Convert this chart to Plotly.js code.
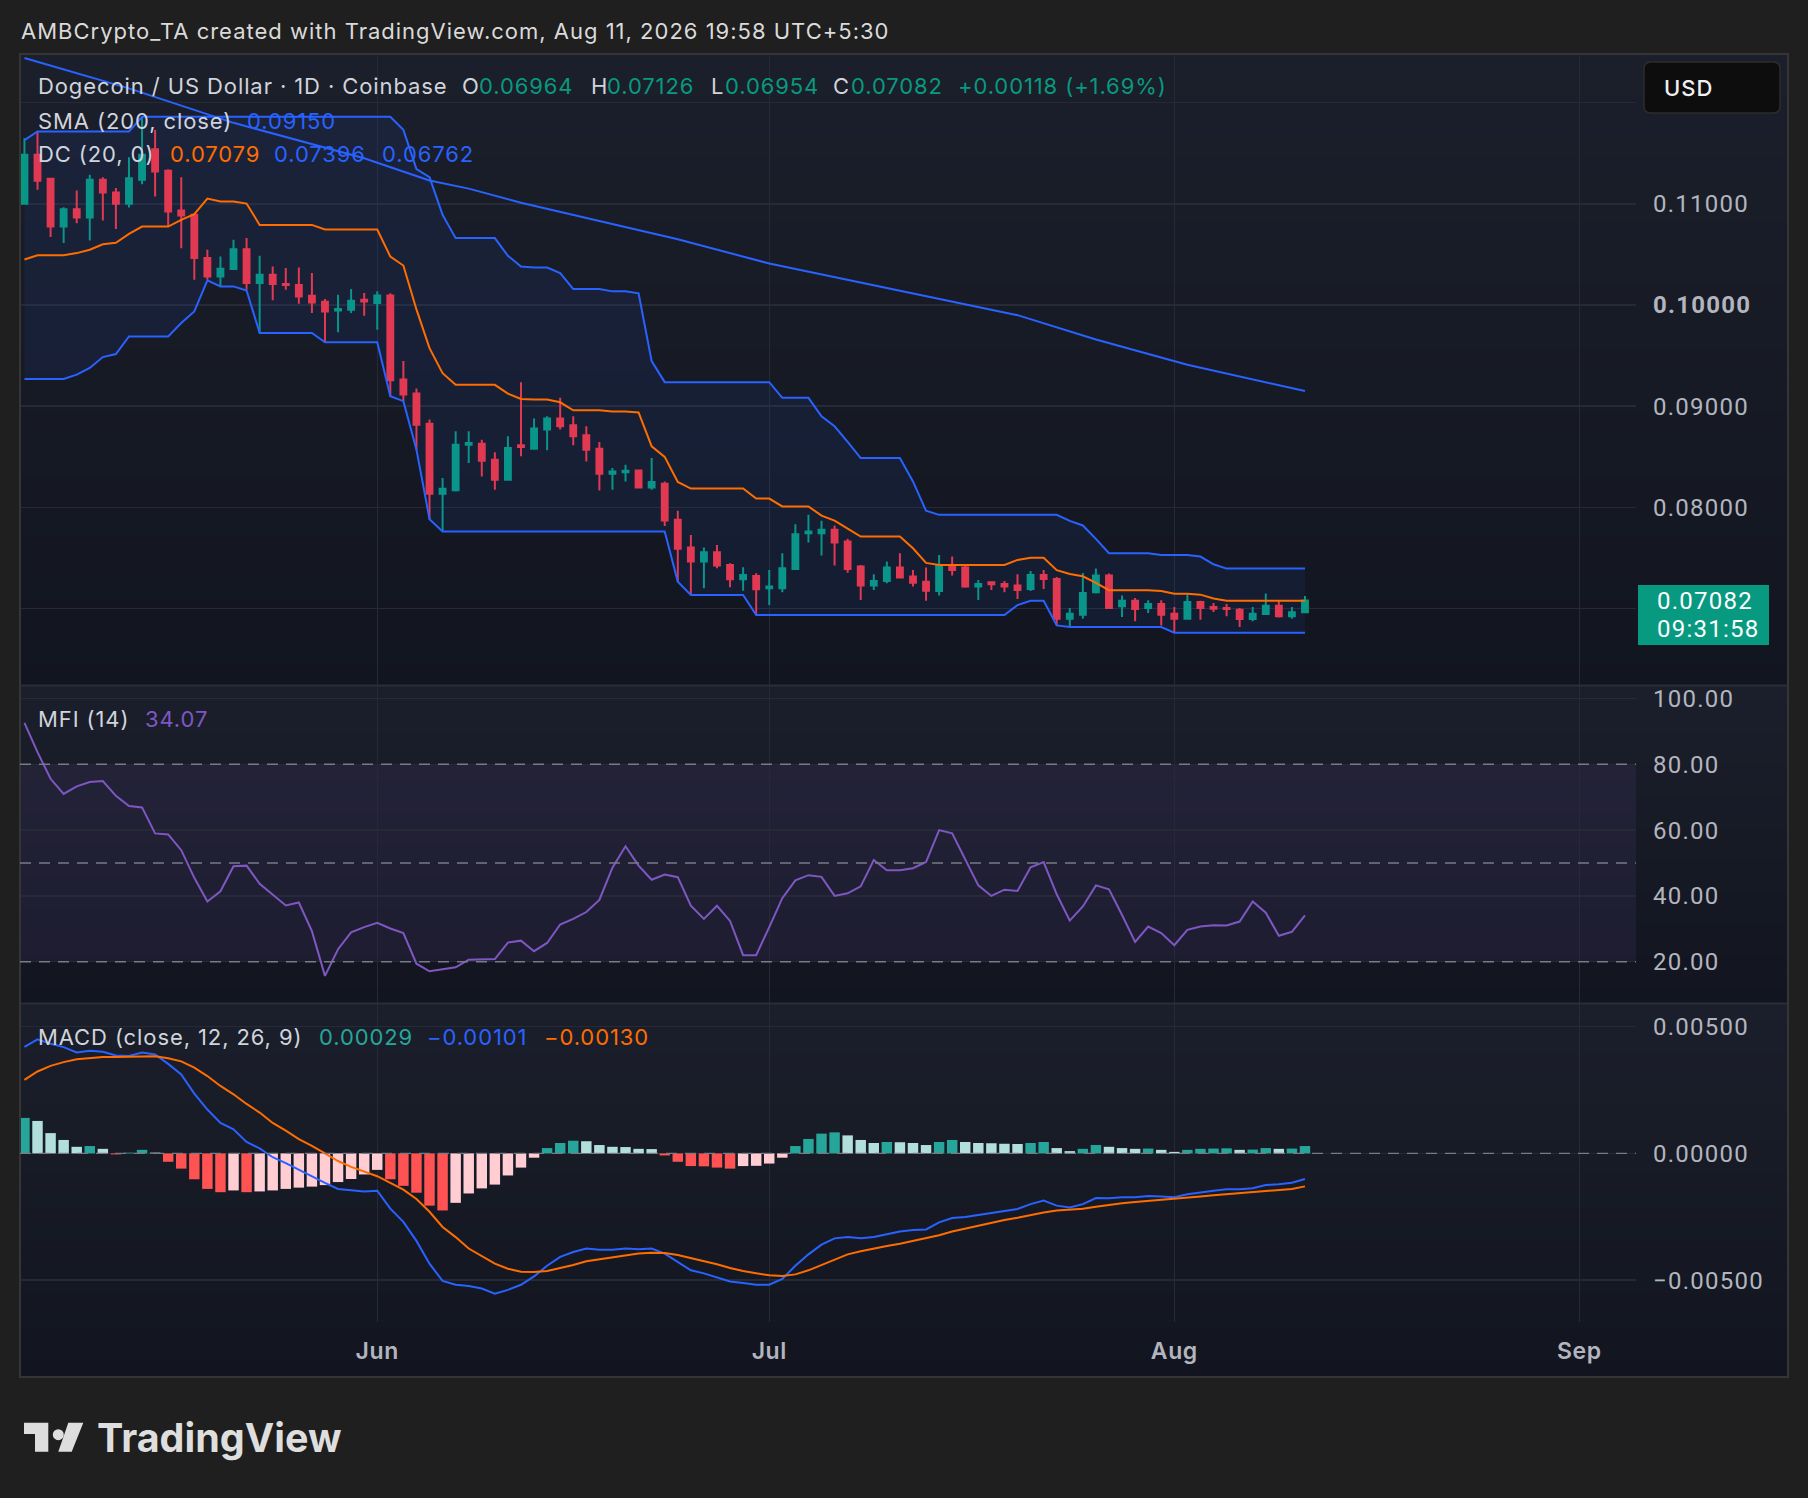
<!DOCTYPE html>
<html><head><meta charset="utf-8">
<script src="https://cdn.plot.ly/plotly-3.0.1.min.js"></script>
<style>html,body{margin:0;padding:0;background:#1f1f1f;overflow:hidden}#chart{width:1808px;height:1498px}</style>
</head><body><div id="chart"></div><script>
// ---------- DATA ----------
const startDate = '2026-05-05';
const open = [0.1100,0.11484,0.11247,0.10776,0.10947,0.10865,0.11237,0.11112,0.1100,0.11237,0.1154,0.11326,0.10934,0.10891,0.10464,0.10283,0.10355,0.10552,0.10217,0.10299,0.10207,0.10197,0.10092,0.10033,0.09947,0.09954,0.10052,0.10019,0.10095,0.09264,0.09125,0.08828,0.08135,0.0817,0.0862,0.0863,0.08472,0.08274,0.08614,0.08581,0.08769,0.08878,0.08812,0.08713,0.08581,0.08333,0.08347,0.08366,0.08198,0.08234,0.07878,0.07604,0.07465,0.07558,0.07432,0.0729,0.07323,0.07201,0.07201,0.07393,0.07746,0.07746,0.07779,0.07663,0.07416,0.07228,0.07274,0.07406,0.07317,0.07267,0.07175,0.07432,0.07406,0.07218,0.0726,0.07244,0.07228,0.07195,0.07333,0.07294,0.06901,0.06941,0.07162,0.07327,0.07023,0.07079,0.07007,0.07046,0.0695,0.06901,0.07066,0.07017,0.07007,0.0699,0.06898,0.06947,0.0703,0.06924,0.06964];
const high = [0.11648,0.11714,0.11247,0.10967,0.11132,0.11286,0.11263,0.11155,0.11461,0.1186,0.1173,0.11342,0.11263,0.10891,0.10546,0.1048,0.10645,0.10661,0.10487,0.10381,0.10365,0.10371,0.10316,0.10059,0.10102,0.10158,0.10118,0.10135,0.10116,0.09446,0.09175,0.08868,0.0829,0.08752,0.08752,0.0867,0.08545,0.08703,0.09238,0.08878,0.08901,0.09083,0.08901,0.08802,0.08647,0.0839,0.08422,0.08373,0.08488,0.08257,0.07967,0.07729,0.07604,0.0763,0.07449,0.07409,0.0735,0.07383,0.07548,0.07835,0.07927,0.07868,0.07822,0.0769,0.07432,0.0734,0.07465,0.07548,0.07383,0.07406,0.07531,0.07515,0.07439,0.07284,0.07267,0.07274,0.0734,0.07373,0.07383,0.07314,0.07007,0.07353,0.07396,0.07347,0.07129,0.07106,0.07083,0.07083,0.07017,0.07139,0.07079,0.07056,0.07046,0.07007,0.07017,0.07149,0.07079,0.07017,0.07126];
const low = [0.1099,0.11138,0.10671,0.10612,0.10809,0.10638,0.10835,0.1075,0.10964,0.11194,0.11072,0.10776,0.10562,0.1025,0.1025,0.10184,0.10355,0.10151,0.09723,0.10046,0.10151,0.10013,0.09921,0.09631,0.0973,0.09921,0.09894,0.09756,0.09099,0.0905,0.08571,0.07884,0.07762,0.08158,0.08439,0.08307,0.08175,0.08274,0.08505,0.08571,0.08564,0.08769,0.08614,0.08455,0.08168,0.08175,0.08257,0.08198,0.08175,0.07818,0.07267,0.07135,0.07201,0.07399,0.07211,0.07178,0.06937,0.07036,0.07162,0.07383,0.07653,0.07525,0.07426,0.07356,0.07086,0.07185,0.07251,0.07307,0.07218,0.07079,0.07129,0.07327,0.07208,0.07086,0.07185,0.07162,0.07096,0.07175,0.07195,0.06835,0.06818,0.06901,0.07149,0.07,0.06917,0.06875,0.06957,0.06835,0.06762,0.06901,0.06891,0.06967,0.06924,0.06818,0.06875,0.06947,0.06914,0.06901,0.06954];
const close = [0.11484,0.11227,0.10776,0.10947,0.10865,0.11237,0.11112,0.1100,0.11253,0.11484,0.11319,0.10924,0.10885,0.10464,0.10283,0.10358,0.10552,0.10217,0.10299,0.10207,0.10197,0.10085,0.10026,0.09937,0.0996,0.10042,0.10036,0.10095,0.09257,0.09116,0.08818,0.08135,0.08185,0.0862,0.08637,0.08462,0.08274,0.08587,0.08597,0.08779,0.08878,0.08802,0.08703,0.08571,0.08333,0.08356,0.08363,0.08198,0.08251,0.07871,0.07591,0.07465,0.07558,0.07426,0.0729,0.07333,0.07191,0.07218,0.07399,0.07736,0.07762,0.07779,0.07653,0.07393,0.07228,0.07274,0.07406,0.07307,0.07257,0.07178,0.07432,0.07383,0.07218,0.07244,0.07241,0.07218,0.07185,0.07333,0.07294,0.06901,0.0695,0.07155,0.07327,0.07007,0.07079,0.06997,0.07046,0.06941,0.06901,0.07066,0.07007,0.07,0.06997,0.06898,0.0695,0.0703,0.06924,0.06964,0.07082];
// Donchian values before a full 20-day window is available (read)
const dcUpperPre = [0.1163,0.11714,0.11714,0.11714,0.11714,0.11714,0.11714,0.11714,0.11714,0.1186,0.1186,0.1186,0.1186,0.1186,0.1186,0.1186,0.1186,0.1186,0.1186];
const dcLowerPre = [0.0927,0.0927,0.0927,0.0927,0.09312,0.09378,0.09486,0.09516,0.0969,0.0969,0.0969,0.0969,0.09822,0.09937,0.10243,0.10184,0.10184,0.10144,0.09723];
// SMA(200) read at sample days (day number, 1 = first candle)
const smaDay = [1,9,17,27,32,35,39,45,51,58,64,71,77,83,90,99];
const smaValue = [0.1244,0.1214,0.1180,0.1145,0.1123,0.1115,0.1101,0.1083,0.1065,0.1041,0.1025,0.1006,0.0990,0.0966,0.0941,0.0915];
const mfi = [92.6,83.7,75.6,71.0,73.3,74.6,74.9,70.4,67.3,66.9,59.0,58.7,53.9,45.5,38.3,41.4,49.0,49.2,43.7,40.5,37.1,38.0,29.3,15.7,23.8,28.9,30.5,31.8,30.1,28.7,19.4,17.1,17.6,
 18.3,20.6,20.6,20.8,25.8,26.4,23.2,25.7,31.3,33.0,35.1,38.8,48.6,55.1,49.2,44.9,46.5,45.7,37.0,33.0,37.0,32.4,22.0,22.0,30.5,39.3,44.7,46.3,45.8,40.0,40.8,42.9,50.9,
 47.8,47.8,48.4,50.3,60.0,59.0,51.3,43.2,40.0,41.9,41.5,48.7,50.3,40.5,32.5,36.8,43.2,42.0,34.2,26.0,30.7,28.7,25.0,29.7,30.7,31.1,31.0,32.2,38.3,34.9,27.9,29.1,34.07];
const macd = [0.0042,0.0045,0.00432,0.00419,0.00398,0.00405,0.00401,0.00386,0.00384,0.00398,0.0039,0.00353,0.00311,0.00236,0.00173,0.0012,0.00095,0.00045,0.0002,-0.00015,-0.00038,-0.00065,-0.0009,-0.00116,-0.0014,-0.00146,-0.0015,-0.00147,-0.00218,-0.0027,-0.00345,-0.00435,-0.00503,
 -0.00518,-0.00523,-0.00533,-0.00553,-0.00538,-0.00518,-0.00485,-0.00443,-0.00408,-0.00389,-0.00375,-0.0038,-0.0038,-0.00375,-0.00378,-0.00375,-0.00395,-0.00428,-0.00461,-0.00473,-0.00488,-0.00505,-0.00511,-0.00518,-0.00518,-0.00495,-0.00443,-0.00398,-0.0036,-0.00335,-0.0033,-0.00335,-0.0033,
 -0.00318,-0.00308,-0.00302,-0.003,-0.00272,-0.00255,-0.00251,-0.00243,-0.00236,-0.00227,-0.00219,-0.002,-0.00186,-0.00206,-0.00213,-0.002,-0.00176,-0.00177,-0.00173,-0.00173,-0.00168,-0.0017,-0.00173,-0.00161,-0.00153,-0.00147,-0.00141,-0.00141,-0.00137,-0.00125,-0.00122,-0.00116,-0.00101];
const signal = [0.0029,0.00323,0.00345,0.0036,0.00371,0.00375,0.0038,0.0038,0.00381,0.00383,0.00383,0.00375,0.00363,0.00338,0.00305,0.00266,0.00233,0.00195,0.00161,0.0012,0.0009,0.00056,0.0003,0,-0.0003,-0.00053,-0.00072,-0.0009,-0.00116,-0.00143,-0.0018,-0.0023,-0.0029,
 -0.0033,-0.00375,-0.00405,-0.00435,-0.00455,-0.00467,-0.00468,-0.00464,-0.00452,-0.0044,-0.00425,-0.00417,-0.00408,-0.00401,-0.00395,-0.00392,-0.00393,-0.00401,-0.00413,-0.00425,-0.00437,-0.00452,-0.00464,-0.00473,-0.0048,-0.00483,-0.00477,-0.00461,-0.0044,-0.00416,-0.00398,-0.00386,-0.00374,
 -0.00365,-0.00356,-0.00345,-0.00335,-0.00323,-0.00308,-0.00296,-0.00284,-0.00273,-0.00263,-0.00254,-0.00243,-0.00233,-0.00225,-0.00222,-0.00218,-0.0021,-0.00203,-0.00197,-0.00192,-0.00188,-0.00183,-0.0018,-0.00176,-0.0017,-0.00165,-0.00161,-0.00158,-0.00153,-0.00149,-0.00144,-0.0014,-0.0013];
const hist = [0.0014,0.00128,0.0008,0.00053,0.00026,0.00029,0.00018,-0.00004,0.00003,0.00014,0.00003,-0.00033,-0.0006,-0.00102,-0.0014,-0.00153,-0.00146,-0.00153,-0.0015,-0.00146,-0.0014,-0.00135,-0.00131,-0.00125,-0.00113,-0.00101,-0.00083,-0.00065,-0.00102,-0.00128,-0.00155,-0.00206,-0.00225,
 -0.00195,-0.00158,-0.00138,-0.00123,-0.00087,-0.00056,-0.00017,0.00021,0.00041,0.0005,0.00048,0.00033,0.00026,0.00025,0.00018,0.00017,-0.00008,-0.00033,-0.0005,-0.00051,-0.00056,-0.0006,-0.0005,-0.00049,-0.0004,-0.00017,0.00029,0.00057,0.00078,0.00083,0.00071,0.00053,0.00041,
 0.00045,0.00044,0.00041,0.00033,0.00045,0.00053,0.00045,0.00041,0.0004,0.00038,0.00037,0.00041,0.00045,0.00021,0.00009,0.00018,0.00033,0.00026,0.00021,0.00018,0.00019,0.00014,0.00006,0.00014,0.00018,0.00019,0.0002,0.00014,0.00015,0.00021,0.00018,0.00019,0.00029];
const monthTicks = ['2026-06-01','2026-07-01','2026-08-01','2026-09-01'];
const monthLabels = ['Jun','Jul','Aug','Sep'];
const priceTicks = [0.07,0.08,0.09,0.10,0.11,0.12];
const mfiTicks = [20,40,60,80,100];
const macdTicks = [-0.005,0,0.005];

// ---------- derived ----------
const DAY = 864e5;
const t0 = Date.parse(startDate+'T00:00:00Z');
const dates = close.map((_,i)=> new Date(t0 + i*DAY).toISOString().slice(0,10));
const N = 20;
const dcUpper = high.map((_,i)=> i < dcUpperPre.length ? dcUpperPre[i] : Math.max(...high.slice(i-N+1,i+1)));
const dcLower = low.map((_,i)=> i < dcLowerPre.length ? dcLowerPre[i] : Math.min(...low.slice(i-N+1,i+1)));
const dcMid = dcUpper.map((u,i)=> (u + dcLower[i]) / 2);
const smaDates = smaDay.map(d => dates[d-1]);
const histColors = hist.map((v,i)=>{
  const p = i>0 ? hist[i-1] : -Infinity;
  if (v >= 0) return v > p ? '#26A69A' : '#B2DFDB';
  return v > p ? '#FFCDD2' : '#FF5252';
});

// ---------- layout helpers ----------
const W = 1808, H = 1498;
const PX = x => x / W, PY = y => 1 - y / H;
const FONT = 'Inter, Roboto, "Noto Sans", sans-serif';
const NUMFONT = 'Roboto, Inter, sans-serif';
const sp = (t, ls) => '<span style="letter-spacing:'+ls+'px">'+t+'</span>';
const shapes = [];
const ann = [];
function band(y0, y1, top, bot, n){
  for (let k=0;k<n;k++){
    const f = (k+0.5)/n;
    const c = top.map((t,j)=> Math.round(t + (bot[j]-t)*f));
    shapes.push({type:'rect', xref:'paper', yref:'paper', layer:'below',
      x0:PX(20), x1:PX(1788), y0:PY(y0 + (y1-y0)*k/n), y1:PY(y0 + (y1-y0)*(k+1)/n) - 0.00001,
      fillcolor:`rgb(${c[0]},${c[1]},${c[2]})`, line:{width:0}});
  }
}
const TOP=[27,31,43], BOT=[18,21,31];
band(54, 685, TOP, BOT, 30);
band(686, 1003, TOP, BOT, 20);
band(1004, 1377, TOP, BOT, 22);

function pathPx(pts){ return 'M ' + pts.map(p=> PX(p[0])+','+PY(p[1])).join(' L ') + ' Z'; }
function roundRect(x0,y0,x1,y1,r){
  const P = (x,y)=> PX(x)+','+PY(y);
  return `M ${P(x0+r,y0)} L ${P(x1-r,y0)} Q ${P(x1,y0)} ${P(x1,y0+r)} L ${P(x1,y1-r)} Q ${P(x1,y1)} ${P(x1-r,y1)} L ${P(x0+r,y1)} Q ${P(x0,y1)} ${P(x0,y1-r)} L ${P(x0,y0+r)} Q ${P(x0,y0)} ${P(x0+r,y0)} Z`;
}
[685.5, 1003.5].forEach(y=> shapes.push({type:'line', xref:'paper', yref:'paper', x0:PX(20), x1:PX(1788), y0:PY(y), y1:PY(y), line:{color:'#2a2e39', width:2}}));
shapes.push({type:'rect', xref:'paper', yref:'paper', x0:PX(20), x1:PX(1788), y0:PY(1377), y1:PY(54), line:{color:'#353535', width:2}, fillcolor:'rgba(0,0,0,0)'});

const xRange = ['2026-05-04 15:50', '2026-09-05 08:00'];
shapes.push({type:'rect', xref:'x', yref:'y2', x0:xRange[0], x1:xRange[1], y0:20, y1:80, fillcolor:'rgba(126,87,194,0.10)', line:{width:0}, layer:'below'});
[80,50,20].forEach(v=> shapes.push({type:'line', xref:'x', yref:'y2', x0:xRange[0], x1:xRange[1], y0:v, y1:v, line:{color:'#787B86', width:1.5, dash:'11px,8px'}, layer:'above'}));
shapes.push({type:'line', xref:'x', yref:'y3', x0:xRange[0], x1:xRange[1], y0:0, y1:0, line:{color:'#787B86', width:1.2, dash:'11px,8px'}, layer:'above'});
shapes.push({type:'path', xref:'paper', yref:'paper', path:roundRect(1644,62,1780,113,7), fillcolor:'#0d0d0d', line:{color:'#2c2c2c', width:1.5}});
const last = close.length-1;
shapes.push({type:'rect', xref:'paper', yref:'paper', x0:PX(1638), x1:PX(1769), y0:PY(645), y1:PY(585), fillcolor:'#089981', line:{width:0}});
shapes.push({type:'path', xref:'paper', yref:'paper', path:pathPx([[24,1422.7],[48.3,1422.7],[48.3,1451.7],[35,1451.7],[35,1434],[24,1434]]), fillcolor:'#dedede', line:{width:0}});
shapes.push({type:'circle', xref:'paper', yref:'paper', x0:PX(52.8), x1:PX(63.8), y0:PY(1440.2), y1:PY(1429.2), fillcolor:'#dedede', line:{width:0}});
shapes.push({type:'path', xref:'paper', yref:'paper', path:pathPx([[68.3,1422.7],[83.3,1422.7],[71.7,1451.7],[58.3,1451.7]]), fillcolor:'#dedede', line:{width:0}});

const LS = 0.9;
function A(x,y,text,color,opts){
  opts = opts || {};
  ann.push({xref:'paper', yref:'paper', x:PX(x), y:PY(y), xanchor:'left', yanchor:'middle', showarrow:false,
    text: sp(text, opts.ls!==undefined ? opts.ls : LS),
    font:{family:opts.family||FONT, size:opts.size||22, color:color, weight:opts.weight||400}});
}
const LG = '#d1d4dc', TEAL='#089981', BLUE='#2962FF', ORANGE='#FF6D00';
const f5 = v => v.toFixed(5);
const sgn = v => (v<0?'\u2212':'') + Math.abs(v).toFixed(5);
A(19,31,'AMBCrypto_TA created with TradingView.com, Aug 11, 2026 19:58 UTC+5:30','#dadada',{size:22, ls:1.0});
A(36,86,'Dogecoin / US Dollar · 1D · Coinbase',LG);
A(460,86,'O',LG); A(477,86,f5(open[last]),TEAL);
A(589,86,'H',LG); A(605,86,f5(high[last]),TEAL);
A(709,86,'L',LG); A(723,86,f5(low[last]),TEAL);
A(831,86,'C',LG); A(849,86,f5(close[last]),TEAL);
const chg = close[last]-close[last-1];
A(956,86,(chg>=0?'+':'\u2212')+Math.abs(chg).toFixed(5)+' ('+(chg>=0?'+':'\u2212')+Math.abs(chg/close[last-1]*100).toFixed(2)+'%)',TEAL);
A(36,121,'SMA (200, close)',LG); A(245,121,f5(smaValue[smaValue.length-1]),BLUE);
A(36,154,'DC (20, 0)',LG); A(168,154,f5(dcMid[last]),ORANGE); A(272,154,f5(dcUpper[last]),BLUE); A(380,154,f5(dcLower[last]),BLUE);
A(36,719,'MFI (14)',LG); A(143,719,mfi[last].toFixed(2),'#7E57C2');
A(36,1037,'MACD (close, 12, 26, 9)',LG); A(317,1037,sgn(hist[last]),'#26A69A'); A(425,1037,sgn(macd[last]),BLUE); A(542,1037,sgn(signal[last]),ORANGE);
A(1662,87.5,'USD','#f0f0f0',{size:22, weight:500, ls:1.0});
A(1655,601,f5(close[last]),'#ffffff',{family:NUMFONT, size:24, ls:1.25});
A(1655,629,'09:31:58','#ffffff',{family:NUMFONT, size:24, ls:1.25});
A(95,1438,'TradingView','#dedede',{size:39.5, weight:700, ls:0});

// ---------- traces ----------
const traces = [
  {type:'scatter', mode:'lines', x:dates, y:dcLower, line:{color:BLUE, width:2}, xaxis:'x', yaxis:'y', hoverinfo:'skip'},
  {type:'scatter', mode:'lines', x:dates, y:dcUpper, line:{color:BLUE, width:2}, fill:'tonexty', fillcolor:'rgba(41,98,255,0.08)', xaxis:'x', yaxis:'y', hoverinfo:'skip'},
  {type:'scatter', mode:'lines', x:dates, y:dcMid, line:{color:ORANGE, width:2}, xaxis:'x', yaxis:'y', hoverinfo:'skip'},
  {type:'scatter', mode:'lines', x:smaDates, y:smaValue, line:{color:BLUE, width:2}, xaxis:'x', yaxis:'y', hoverinfo:'skip'},
  {type:'candlestick', x:dates, open:open, high:high, low:low, close:close, xaxis:'x', yaxis:'y', whiskerwidth:0,
    increasing:{line:{color:'#089981', width:2}, fillcolor:'#089981'},
    decreasing:{line:{color:'#F23645', width:2}, fillcolor:'#F23645'}, hoverinfo:'skip'},
  {type:'scatter', mode:'lines', x:dates, y:mfi, line:{color:'#7E57C2', width:2}, xaxis:'x', yaxis:'y2', hoverinfo:'skip'},
  {type:'bar', x:dates, y:hist, marker:{color:histColors, line:{width:0}}, width:0.8*DAY, xaxis:'x', yaxis:'y3', hoverinfo:'skip'},
  {type:'scatter', mode:'lines', x:dates, y:macd, line:{color:BLUE, width:2}, xaxis:'x', yaxis:'y3', hoverinfo:'skip'},
  {type:'scatter', mode:'lines', x:dates, y:signal, line:{color:ORANGE, width:2}, xaxis:'x', yaxis:'y3', hoverinfo:'skip'}
];

const GRID = '#262a37';
const tickFont = {family:NUMFONT, size:24, color:'#b2b5be'};
const tl = t => sp(t, 1.25);
const yCommon = {side:'right', anchor:'x', showgrid:true, gridcolor:GRID, gridwidth:1.5, zeroline:false, ticks:'', showline:false, tickfont:tickFont, ticklabelstandoff:16, fixedrange:true};
const layout = {
  width:W, height:H, margin:{l:0,r:0,t:0,b:0}, paper_bgcolor:'#1f1f1f', plot_bgcolor:'rgba(0,0,0,0)',
  showlegend:false, hovermode:false, dragmode:false, boxgap:0.36, bargap:0.2,
  xaxis:{type:'date', domain:[PX(20),PX(1636)], range:xRange, anchor:'y3', tickvals:monthTicks, ticktext:monthLabels.map(t=>sp(t,0.6)),
    showgrid:true, gridcolor:GRID, gridwidth:1.5, zeroline:false, ticks:'', showline:false,
    tickfont:{family:FONT, size:23, color:'#b2b5be', weight:600}, ticklabelstandoff:13, rangeslider:{visible:false}, fixedrange:true},
  yaxis:Object.assign({}, yCommon, {domain:[PY(685),PY(54)], range:[0.06246,0.1248], tickvals:priceTicks,
    ticktext:priceTicks.map((v,i)=> (i===0||i===priceTicks.length-1) ? '' : (Math.abs(v-0.10)<1e-9 ? tl('<b>'+v.toFixed(5)+'</b>') : tl(v.toFixed(5))))}),
  yaxis2:Object.assign({}, yCommon, {domain:[PY(1003),PY(686)], range:[7.45,103.8], tickvals:mfiTicks, ticktext:mfiTicks.map(v=>tl(v.toFixed(2)))}),
  yaxis3:Object.assign({}, yCommon, {domain:[PY(1322),PY(1004)], range:[-0.006648,0.005891], tickvals:macdTicks, ticktext:macdTicks.map(v=> tl(sgn(v)))}),
  shapes:shapes, annotations:ann
};
Plotly.newPlot('chart', traces, layout, {staticPlot:true, displayModeBar:false});
</script></body></html>
